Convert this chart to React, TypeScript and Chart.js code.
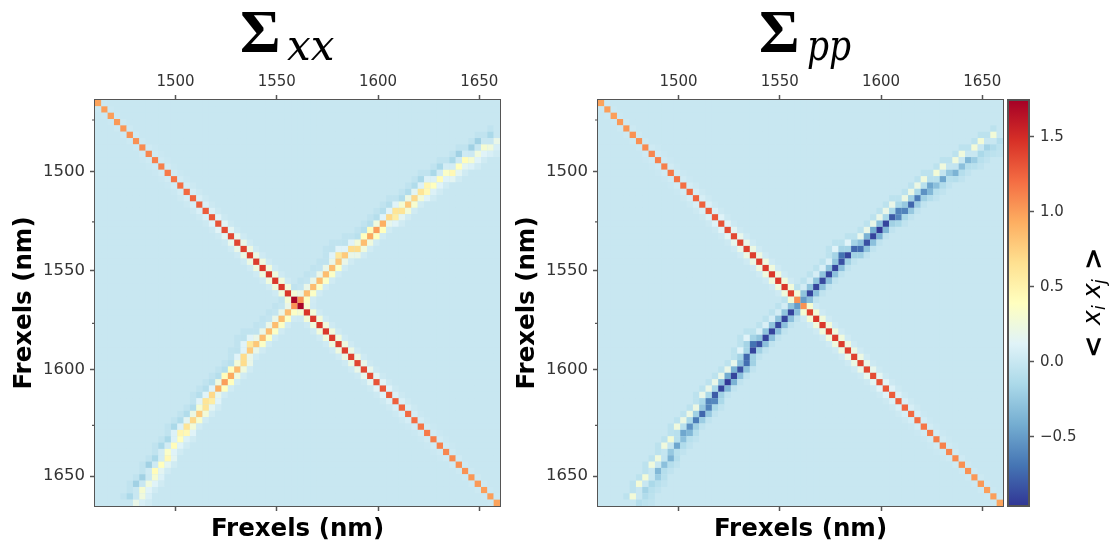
import React, { useEffect, useRef } from "react";
import { Chart, registerables } from "chart.js";

Chart.register(...registerables);

const GRID = 64;
const AXIS_TITLE = "Frexels (nm)";
const X_TICK_INDEX = [12.73, 28.73, 44.73, 60.73];
const Y_TICK_INDEX = [11.25, 26.9, 42.5, 59.3];
const Y_MINOR_INDEX = [3.15, 19.2, 35.2, 51.3];
const TICK_LABELS = ["1500", "1550", "1600", "1650"];
const COLORBAR_MIN = -0.96;
const COLORBAR_MAX = 1.745;
const COLORBAR_TICKS = [-0.5, 0, 0.5, 1, 1.5];
const CMAP = ["#313695", "#4575b4", "#74add1", "#abd9e9", "#e0f3f8", "#ffffbf", "#fee090", "#fdae61", "#f46d43", "#d73027", "#a50026"];

// Main diagonal from the corner to the centre (the far half is its mirror).
const diagXX = [0.98, 1, 1, 1.02, 1.03, 1.05, 1.06, 1.08, 1.1, 1.12, 1.13, 1.15, 1.17, 1.2, 1.22, 1.24, 1.26, 1.28, 1.3, 1.32, 1.35, 1.37, 1.38, 1.4, 1.41, 1.42, 1.43, 1.44, 1.44, 1.45, 1.45, 1.72];
const diagPP = [0.98, 1, 1, 1.02, 1.03, 1.05, 1.06, 1.08, 1.1, 1.12, 1.13, 1.15, 1.17, 1.2, 1.22, 1.24, 1.26, 1.28, 1.3, 1.32, 1.35, 1.37, 1.38, 1.4, 1.41, 1.42, 1.43, 1.44, 1.44, 1.45, 1.4, 1.05];
const diagNear = [0.01, 0.01, 0.01, 0.02, 0.02, 0.02, 0.02, 0.03, 0.03, 0.03, 0.04, 0.04, 0.04, 0.05, 0.06, 0.07, 0.08, 0.09, 0.11, 0.13, 0.15, 0.18, 0.2, 0.22, 0.22, 0.24, 0.25, 0.25, 0.26, 0.26, 0.28, 0.3];
const diagFar = [0, 0, 0, 0, 0, 0, 0, 0, 0.01, 0.01, 0.01, 0.01, 0.01, 0.01, 0.02, 0.02, 0.02, 0.02, 0.02, 0.02, 0.02, 0.02, 0.03, 0.03, 0.03, 0.03, 0.03, 0.03, 0.03, 0.03, 0.03, 0.03];

// Anti-diagonal ridge, cells of the upper-right half from the centre outwards.
const ridgeRows = [31, 30, 29, 28, 27, 26, 25, 24, 24, 23, 23, 22, 21, 20, 19, 18, 18, 17, 17, 16, 15, 14, 14, 13, 13, 12, 11, 11, 10, 9, 9, 8, 7, 7, 6];
const ridgeCols = [32, 33, 34, 35, 36, 37, 38, 38, 39, 40, 41, 42, 43, 44, 45, 46, 47, 47, 48, 49, 50, 51, 52, 52, 53, 54, 55, 56, 57, 58, 59, 60, 61, 62, 63];
const xxRidge = [1.05, 0.85, 0.85, 0.85, 0.85, 0.85, 0.8, 0.6, 0.78, 0.68, 0.68, 0.85, 0.95, 1, 0.92, 0.7, 0.55, 0.62, 0.62, 0.78, 0.7, 0.62, 0.45, 0.48, 0.4, 0.42, 0.35, 0.45, 0.4, 0.42, 0.3, 0.25, 0.3, 0.25, 0.2];
const ppRidge = [-0.5, -0.9, -0.9, -0.88, -0.9, -0.9, -0.85, -0.7, -0.9, -0.75, -0.72, -0.85, -0.9, -0.95, -0.9, -0.8, -0.6, -0.62, -0.62, -0.75, -0.65, -0.55, -0.35, -0.45, -0.3, -0.45, -0.25, -0.38, -0.3, -0.35, -0.22, -0.15, -0.18, -0.12, -0.1];
const xxUp = [0.2, 0.2, 0.2, 0.2, 0.2, 0.2, 0.2, 0.12, 0.15, 0.12, 0.15, 0.28, 0.4, 0.42, 0.25, 0.12, 0.12, 0.12, 0.15, 0.3, 0.22, 0.15, 0.08, 0.1, 0.05, 0.1, 0.05, 0.08, 0.05, 0.03, 0.03, 0.02, 0, 0, 0];
const xxDown = [0.36, 0.36, 0.36, 0.36, 0.36, 0.36, 0.36, 0.2, 0.2, 0.2, 0.2, 0.25, 0.25, 0.4, 0.4, 0.18, 0.12, 0.15, 0.15, 0.28, 0.32, 0.28, 0.12, 0.2, 0.1, 0.12, 0.12, 0.15, 0.15, 0.15, 0.1, 0.12, 0.12, 0.08, 0.08];
const ppUp = [-0.28, -0.28, -0.28, -0.28, -0.28, -0.28, -0.28, -0.18, -0.2, -0.18, -0.2, -0.3, -0.38, -0.42, -0.3, -0.15, -0.15, -0.15, -0.15, -0.25, -0.2, -0.15, -0.05, -0.08, -0.02, -0.08, -0.02, -0.05, -0.03, 0, 0, 0, 0, 0, 0];
const ppDown = [-0.3, -0.3, -0.3, -0.3, -0.3, -0.3, -0.3, -0.2, -0.2, -0.2, -0.2, -0.28, -0.3, -0.38, -0.35, -0.2, -0.15, -0.15, -0.15, -0.25, -0.22, -0.2, -0.1, -0.12, -0.08, -0.12, -0.08, -0.1, -0.1, -0.1, -0.08, -0.08, -0.08, -0.06, -0.06];
const xxCorner = [-0.02, -0.02, -0.02, -0.02, -0.03, -0.04, -0.04, -0.05, -0.05, -0.05, -0.06, -0.08, -0.1, -0.1, -0.1, -0.1, -0.1, -0.1, -0.1, -0.12, -0.12, -0.12, -0.12, -0.15, -0.15, -0.15, -0.15, -0.15, -0.15, -0.2, -0.2, -0.2, -0.2, -0.15, -0.15];
const ppCorner = [0.05, 0.05, 0.05, 0.06, 0.08, 0.08, 0.1, 0.12, 0.12, 0.12, 0.15, 0.18, 0.2, 0.2, 0.2, 0.2, 0.2, 0.2, 0.2, 0.22, 0.22, 0.22, 0.22, 0.25, 0.25, 0.28, 0.25, 0.25, 0.25, 0.25, 0.25, 0.28, 0.28, 0.28, 0.28];
const xxFaint = [-0.04, 0.04];
const ppFaint = [-0.06, -0.04];

type Cell = { x: number; y: number; v: number };

function buildMatrix(diag: number[], ridge: number[], up: number[], down: number[], corner: number[], faint: number[]): Cell[] {
  const m: number[][] = Array.from({ length: GRID }, () => new Array(GRID).fill(0));
  const put = (r: number, c: number, v: number) => {
    if (r >= 0 && r < GRID && c >= 0 && c < GRID) {
      m[r][c] = v;
      m[c][r] = v;
    }
  };
  const half = (i: number) => (i < GRID / 2 ? i : GRID - 1 - i);
  for (let i = 0; i < GRID; i++) {
    put(i, i + 2, diagFar[half(Math.min(i + 1, GRID - 1))]);
  }
  ridgeRows.forEach((r, k) => {
    const c = ridgeCols[k];
    put(r - 2, c - 1, faint[0]);
    put(r - 1, c - 2, faint[0]);
    put(r + 1, c + 1, faint[1]);
  });
  ridgeRows.forEach((r, k) => put(r - 1, ridgeCols[k] - 1, corner[k]));
  ridgeRows.forEach((r, k) => {
    const c = ridgeCols[k];
    put(r - 1, c, up[k]);
    put(r, c - 1, up[k]);
    put(r + 1, c, down[k]);
    put(r, c + 1, down[k]);
  });
  for (let i = 0; i < GRID - 1; i++) put(i, i + 1, diagNear[half(i)]);
  ridgeRows.forEach((r, k) => put(r, ridgeCols[k], ridge[k]));
  for (let i = 0; i < GRID; i++) put(i, i, diag[half(i)]);
  const cells: Cell[] = [];
  for (let r = 0; r < GRID; r++) for (let c = 0; c < GRID; c++) cells.push({ x: c + 0.5, y: r + 0.5, v: m[r][c] });
  return cells;
}

function hexRgb(h: string) {
  return [parseInt(h.slice(1, 3), 16), parseInt(h.slice(3, 5), 16), parseInt(h.slice(5, 7), 16)];
}
function colorOf(v: number) {
  const t = Math.max(0, Math.min(1, (v - COLORBAR_MIN) / (COLORBAR_MAX - COLORBAR_MIN))) * (CMAP.length - 1);
  const i = Math.min(Math.floor(t), CMAP.length - 2);
  const f = t - i;
  const a = hexRgb(CMAP[i]);
  const b = hexRgb(CMAP[i + 1]);
  return `rgb(${a.map((x, n) => Math.round(x + (b[n] - x) * f)).join(",")})`;
}

const SANS = "'DejaVu Sans'";
const SPINE = "#555555";
const TEXT = "#333333";

function heatConfig(cells: Cell[], title: { sigma: string; sub: string; sigmaX: number; subX: number; subScale: number }): any {
  const fixed = (size: number, key: "width" | "height") => (s: any) => {
    s[key] = size;
  };
  const setTicks = (list: number[]) => (s: any) => {
    s.ticks = list.map((value) => ({ value }));
  };
  const tickGrid = { display: true, drawOnChartArea: false, color: SPINE, tickColor: SPINE, tickLength: 5, tickWidth: 1.5 };
  const border = { display: true, color: SPINE, width: 2 };
  const plugin = {
    id: "heatDecor",
    beforeDatasetsDraw(chart: any) {
      const a = chart.chartArea;
      chart.ctx.save();
      chart.ctx.fillStyle = colorOf(0);
      chart.ctx.fillRect(a.left, a.top, a.width, a.height);
      chart.ctx.restore();
    },
    afterDraw(chart: any) {
      const ctx = chart.ctx;
      const a = chart.chartArea;
      const y = chart.scales.y;
      ctx.save();
      ctx.strokeStyle = SPINE;
      ctx.lineWidth = 1.2;
      ctx.beginPath();
      Y_MINOR_INDEX.forEach((v) => {
        const p = y.getPixelForValue(v);
        ctx.moveTo(a.left - 3, p);
        ctx.lineTo(a.left, p);
      });
      ctx.stroke();
      ctx.fillStyle = "#000";
      ctx.textAlign = "left";
      ctx.textBaseline = "alphabetic";
      ctx.font = "bold 62px 'Liberation Serif'";
      ctx.fillText(title.sigma, title.sigmaX, 52);
      ctx.font = "italic 42px 'DejaVu Serif'";
      ctx.translate(title.subX, 59.5);
      ctx.scale(title.subScale, 1);
      ctx.fillText(title.sub, 0, 0);
      ctx.restore();
    },
  };
  return {
    type: "scatter",
    data: {
      datasets: [
        {
          data: cells,
          xAxisID: "x",
          yAxisID: "y",
          pointStyle: "rect",
          pointRadius: 4.5,
          pointHoverRadius: 4.5,
          borderWidth: 0,
          pointBorderWidth: 0,
          backgroundColor: (ctx: any) => colorOf(ctx.raw ? ctx.raw.v : 0),
        },
      ],
    },
    options: {
      animation: false,
      responsive: false,
      events: [],
      layout: { padding: { top: 0, left: 0, right: 20, bottom: 0 } },
      plugins: { legend: { display: false }, tooltip: { enabled: false }, title: { display: false } },
      scales: {
        x: {
          type: "linear",
          position: "bottom",
          min: 0,
          max: GRID,
          afterBuildTicks: setTicks(X_TICK_INDEX),
          afterFit: fixed(43, "height"),
          ticks: { display: false },
          grid: tickGrid,
          border,
          title: { display: true, text: AXIS_TITLE, color: "#000", font: { family: SANS, size: 24.5, weight: "bold" }, padding: { top: 1, bottom: 5 } },
        },
        xTop: {
          type: "linear",
          position: "top",
          min: 0,
          max: GRID,
          afterBuildTicks: setTicks(X_TICK_INDEX),
          afterFit: fixed(100, "height"),
          ticks: { autoSkip: false, maxRotation: 0, color: TEXT, padding: 4, font: { family: SANS, size: 15 }, callback: (_v: any, i: number) => TICK_LABELS[i] },
          grid: tickGrid,
          border,
        },
        y: {
          type: "linear",
          position: "left",
          reverse: true,
          min: 0,
          max: GRID,
          afterBuildTicks: setTicks(Y_TICK_INDEX),
          afterFit: fixed(95, "width"),
          ticks: { autoSkip: false, color: TEXT, padding: 5, font: { family: SANS, size: 16.5 }, callback: (_v: any, i: number) => TICK_LABELS[i] },
          grid: tickGrid,
          border,
          title: { display: true, text: AXIS_TITLE, color: "#000", font: { family: SANS, size: 24.5, weight: "bold" }, padding: { top: 10, bottom: 0 } },
        },
        yRight: {
          type: "linear",
          position: "right",
          reverse: true,
          min: 0,
          max: GRID,
          afterFit: fixed(0, "width"),
          ticks: { display: false },
          grid: { display: false },
          border,
        },
      },
    },
    plugins: [plugin],
  };
}

function colorbarConfig(): any {
  const plugin = {
    id: "cbarDecor",
    afterDraw(chart: any) {
      const ctx = chart.ctx;
      const a = chart.chartArea;
      ctx.save();
      ctx.strokeStyle = SPINE;
      ctx.lineWidth = 2;
      ctx.strokeRect(a.left, a.top, a.width, a.height);
      ctx.translate(1100 - 1003, 355);
      ctx.rotate(-Math.PI / 2);
      ctx.fillStyle = "#000";
      ctx.textBaseline = "alphabetic";
      const runs: [string, string, number, number][] = [
        ["<", `bold 27px ${SANS}`, -3, 2],
        ["x", `oblique 25px ${SANS}`, 30, 0],
        ["i", `oblique 17px ${SANS}`, 45, 5],
        ["x", `oblique 25px ${SANS}`, 57, 0],
        ["j", `oblique 17px ${SANS}`, 71, 5],
        [">", `bold 27px ${SANS}`, 85, 2],
      ];
      runs.forEach(([t, f, x, dy]) => {
        ctx.font = f;
        ctx.fillText(t, x, dy);
      });
      ctx.restore();
    },
  };
  return {
    type: "bar",
    data: {
      labels: ["colorbar"],
      datasets: [
        {
          data: [[COLORBAR_MIN, COLORBAR_MAX]],
          barPercentage: 1,
          categoryPercentage: 1,
          borderWidth: 0,
          backgroundColor: (ctx: any) => {
            const a = ctx.chart.chartArea;
            if (!a) return CMAP[5];
            const g = ctx.chart.ctx.createLinearGradient(0, a.bottom, 0, a.top);
            CMAP.forEach((c, i) => g.addColorStop(i / (CMAP.length - 1), c));
            return g;
          },
        },
      ],
    },
    options: {
      animation: false,
      responsive: false,
      events: [],
      layout: { padding: { top: 100, left: 5, right: 0, bottom: 43 } },
      plugins: { legend: { display: false }, tooltip: { enabled: false } },
      scales: {
        x: { display: false },
        y: {
          type: "linear",
          position: "right",
          min: COLORBAR_MIN,
          max: COLORBAR_MAX,
          afterBuildTicks: (s: any) => {
            s.ticks = COLORBAR_TICKS.map((value) => ({ value }));
          },
          afterFit: (s: any) => {
            s.width = 84;
          },
          ticks: {
            color: TEXT,
            padding: 6,
            font: { family: SANS, size: 15 },
            callback: (v: number) => (v < 0 ? "\u2212" : "") + Math.abs(v).toFixed(1),
          },
          grid: { display: true, drawOnChartArea: false, tickColor: SPINE, tickLength: 5, tickWidth: 1.5 },
          border: { display: false },
        },
      },
    },
    plugins: [plugin],
  };
}

export default function App() {
  const a = useRef<HTMLCanvasElement>(null);
  const b = useRef<HTMLCanvasElement>(null);
  const c = useRef<HTMLCanvasElement>(null);
  useEffect(() => {
    const xx = buildMatrix(diagXX, xxRidge, xxUp, xxDown, xxCorner, xxFaint);
    const pp = buildMatrix(diagPP, ppRidge, ppUp, ppDown, ppCorner, ppFaint);
    const charts = [
      new Chart(a.current!, heatConfig(xx, { sigma: "\u03A3", sub: "xx", sigmaX: 240, subX: 287, subScale: 1 })),
      new Chart(b.current!, heatConfig(pp, { sigma: "\u03A3", sub: "pp", sigmaX: 256, subX: 304, subScale: 0.82 })),
      new Chart(c.current!, colorbarConfig()),
    ];
    return () => charts.forEach((ch) => ch.destroy());
  }, []);
  const style = (left: number, zIndex = 0): React.CSSProperties => ({ position: "absolute", left, top: 0, zIndex, filter: "blur(0.45px)" });
  return (
    <div style={{ position: "absolute", left: 0, top: 0, width: 1113, height: 549, overflow: "hidden", background: "#fff" }}>
      <canvas ref={a} width={520} height={549} style={style(0)} />
      <canvas ref={b} width={520} height={549} style={style(503)} />
      <canvas ref={c} width={110} height={549} style={style(1003)} />
    </div>
  );
}
